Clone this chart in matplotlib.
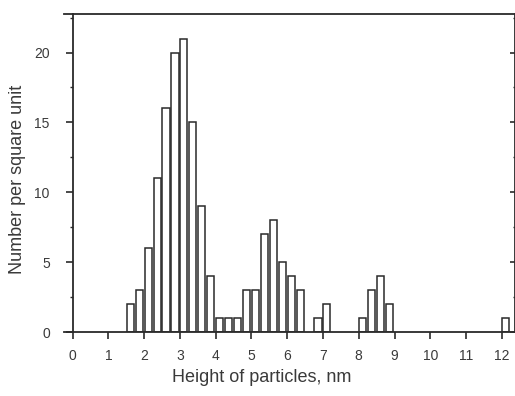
import matplotlib
matplotlib.use("Agg")
import matplotlib.pyplot as plt
from matplotlib.lines import Line2D
from matplotlib.ticker import MultipleLocator

plt.rcParams['font.family'] = ['Liberation Sans', 'DejaVu Sans']

# bin centres (nm) and counts
heights = [1.61, 1.86, 2.11, 2.36, 2.61, 2.86, 3.11, 3.36, 3.61, 3.86,
           4.11, 4.36, 4.61, 4.86, 5.11, 5.36, 5.61, 5.86, 6.11, 6.36,
           6.86, 7.11, 8.11, 8.36, 8.61, 8.86, 12.11]
counts = [2, 3, 6, 11, 16, 20, 21, 15, 9, 4,
          1, 1, 1, 3, 3, 7, 8, 5, 4, 3,
          1, 2, 1, 3, 4, 2, 1]
xticks = list(range(0, 13))
yticks = [0, 5, 10, 15, 20]

W, H = 515, 396
fig = plt.figure(figsize=(W / 100, H / 100), dpi=100)
left, right, top, bottom = 72.7, 515.0, 14.0, 332.0
ax = fig.add_axes([left / W, 1 - bottom / H, (right - left) / W, (bottom - top) / H])

edge = '#2a2a2a'
txt = '#3a3a3a'
ax.bar(heights, counts, width=0.2, color='white', edgecolor=edge, linewidth=1.1)

ax.set_xlim(0, 12.37)
ax.set_ylim(0, 22.76)
ax.set_xticks(xticks)
ax.set_yticks(yticks)
ax.yaxis.set_minor_locator(MultipleLocator(2.5))

for s in ax.spines.values():
    s.set_color(edge)
    s.set_linewidth(1.3)

ax.tick_params(axis='x', which='major', direction='out', length=5, width=1.2,
               color=edge, labelsize=10, labelcolor=txt, pad=7)
ax.tick_params(axis='y', which='major', direction='out', length=5, width=1.2,
               color=edge, labelsize=10, labelcolor=txt, pad=11.5)
ax.tick_params(axis='y', which='minor', direction='out', length=2.2, width=1.0,
               color=edge)

# inward ticks on the right frame line
sec = ax.secondary_yaxis('right')
sec.set_yticks(yticks)
sec.yaxis.set_minor_locator(MultipleLocator(2.5))
sec.spines['right'].set_visible(False)
sec.tick_params(axis='y', which='major', direction='in', length=3.6, width=1.2,
                color=edge, labelright=False)
sec.tick_params(axis='y', which='minor', direction='in', length=1.6, width=1.0,
                color=edge)

ax.set_xlabel('Height of particles, nm', fontsize=13, color=txt)
ax.xaxis.set_label_coords((262 - left) / (right - left), (bottom - 378) / (bottom - top))
ax.xaxis.label.set_verticalalignment('center')
ax.set_ylabel('Number per square unit', fontsize=13, color=txt)
ax.yaxis.set_label_coords((18 - left) / (right - left), (bottom - 179) / (bottom - top))
ax.yaxis.label.set_verticalalignment('center')

# short extensions of the horizontal frame lines to the left
ext = -8.5 / (right - left)
for yy in (0, 1):
    ax.add_line(Line2D([ext, 0], [yy, yy], transform=ax.transAxes, color=edge,
                       linewidth=1.3, clip_on=False))

fig.savefig('out.png', dpi=100)
